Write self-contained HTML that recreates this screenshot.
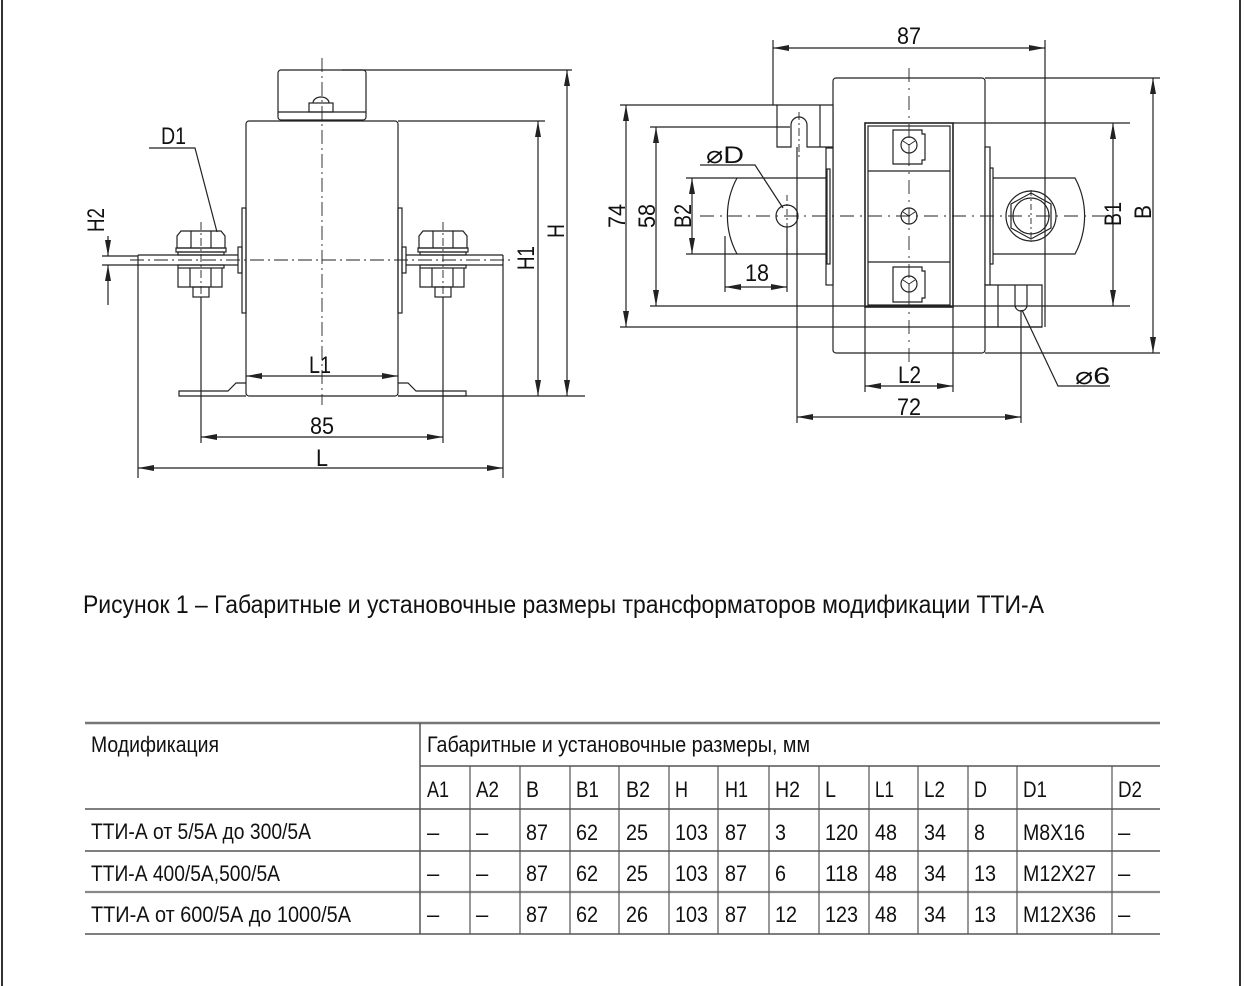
<!DOCTYPE html>
<html><head><meta charset="utf-8"><style>
html,body{margin:0;padding:0;background:#fff;}
svg{display:block;}
text{font-family:"Liberation Sans",sans-serif;fill:#111;}
</style></head><body>
<svg width="1244" height="986" viewBox="0 0 1244 986" xmlns="http://www.w3.org/2000/svg">
<defs>
<marker id="a" viewBox="0 0 16 6" refX="16" refY="3" markerWidth="16" markerHeight="6" orient="auto-start-reverse" markerUnits="userSpaceOnUse"><path d="M0,0 L16,3 L0,6 Z" fill="#222"/></marker>
</defs>
<line x1="2" y1="0" x2="2" y2="986" stroke="#333" stroke-width="2"/>
<line x1="1240" y1="0" x2="1240" y2="986" stroke="#333" stroke-width="2"/>

<g stroke="#222" stroke-width="1.2" fill="none">
<rect x="278" y="70" width="88" height="50" rx="3" fill="#fff"/>
<line x1="278" y1="112" x2="366" y2="112"/>
<rect x="309" y="103" width="24" height="9"/>
<path d="M313,103 a8,6 0 0 1 16,0"/>
<rect x="246" y="121" width="152" height="275" rx="3" fill="#fff"/>
<rect x="242" y="208" width="4" height="105"/>
<rect x="238" y="247" width="4" height="26"/>
<rect x="398" y="208" width="4" height="105"/>
<rect x="402" y="247" width="4" height="26"/>
<path d="M138,255 H238 M138,265 H238 M138,255 V265"/>
<path d="M406,255 H503 M406,265 H503 M503,255 V265"/>
<path d="M177,248 V236 l4,-5 h40 l4,5 V248 Z M191,231 v17 M211,231 v17"/>
<rect x="176" y="248" width="50" height="4"/><rect x="178" y="252" width="46" height="3"/>
<rect x="178" y="265" width="46" height="3"/>
<path d="M178,268 V287 h44 V268 M190,268 v19 M211,268 v19"/>
<rect x="193" y="287" width="16" height="10"/>
<path d="M419,248 V236 l4,-5 h40 l4,5 V248 Z M433,231 v17 M453,231 v17"/>
<rect x="418" y="248" width="50" height="4"/><rect x="420" y="252" width="46" height="3"/>
<rect x="420" y="265" width="46" height="3"/>
<path d="M420,268 V287 h44 V268 M432,268 v19 M453,268 v19"/>
<rect x="435" y="287" width="16" height="10"/>
<path d="M246,383 H236 l-8,8 H179 v5 H246"/>
<path d="M398,383 H408 l8,8 H466 v5 H398"/>
<line x1="322" y1="58" x2="322" y2="405" stroke-dasharray="14,4,2,4" stroke-width="0.9"/>
<line x1="130" y1="260" x2="510" y2="260" stroke-dasharray="14,4,2,4" stroke-width="0.9"/>
<line x1="201" y1="222" x2="201" y2="300" stroke-dasharray="8,3,2,3" stroke-width="0.9"/>
<line x1="443" y1="222" x2="443" y2="300" stroke-dasharray="8,3,2,3" stroke-width="0.9"/>
<line x1="342" y1="70" x2="572" y2="70"/>
<line x1="398" y1="121" x2="545" y2="121"/>
<line x1="398" y1="396" x2="585" y2="396"/>
<line x1="567" y1="70" x2="567" y2="396" marker-start="url(#a)" marker-end="url(#a)"/>
<line x1="538" y1="121" x2="538" y2="396" marker-start="url(#a)" marker-end="url(#a)"/>
<line x1="246" y1="376" x2="398" y2="376" marker-start="url(#a)" marker-end="url(#a)"/>
<line x1="201" y1="297" x2="201" y2="443"/>
<line x1="443" y1="297" x2="443" y2="443"/>
<line x1="201" y1="437" x2="443" y2="437" marker-start="url(#a)" marker-end="url(#a)"/>
<line x1="138" y1="265" x2="138" y2="478"/>
<line x1="503" y1="265" x2="503" y2="478"/>
<line x1="138" y1="468" x2="503" y2="468" marker-start="url(#a)" marker-end="url(#a)"/>
<line x1="102" y1="256" x2="138" y2="256"/>
<line x1="102" y1="265" x2="138" y2="265"/>
<line x1="108" y1="236" x2="108" y2="256" marker-end="url(#a)"/>
<line x1="108" y1="305" x2="108" y2="265" marker-end="url(#a)"/>
<path d="M149,148 H195 L217,232"/>

<rect x="833" y="78" width="152" height="275" rx="3" fill="#fff"/>
<path d="M826,178 H737 a80,80 0 0 0 0,76 H826" fill="#fff"/>
<path d="M993,178 H1075 a80,80 0 0 1 0,76 H993" fill="#fff"/>
<circle cx="787" cy="216" r="11"/>
<circle cx="1031" cy="216" r="25"/>
<path d="M1031,193 l20,11 v24 l-20,11 l-20,-11 v-24 Z"/>
<circle cx="1031" cy="216" r="18"/>
<rect x="826" y="148" width="7" height="137" fill="#fff"/>
<rect x="827" y="169" width="3" height="95"/>
<rect x="985" y="147" width="5" height="138" fill="#fff"/>
<rect x="990" y="168" width="3" height="96"/>
<path d="M777,105 H833 V147 H807 V125 a8,8 0 0 0 -16,0 V147 H777 Z" fill="#fff"/>
<line x1="820" y1="105" x2="820" y2="147"/>
<path d="M985,285 H1042 V327 H985 Z M1015,285 V305 a6,6 0 0 0 12,0 V285" fill="#fff"/>
<line x1="998" y1="285" x2="998" y2="327"/>
<rect x="865" y="123" width="88" height="184" stroke-width="1.6" fill="#fff"/>
<rect x="868" y="126" width="82" height="179"/>
<line x1="868" y1="171" x2="950" y2="171"/>
<line x1="868" y1="262" x2="950" y2="262"/>
<path d="M893,130 H922 v4 h3 v26 h-3 v4 H893 Z"/>
<path d="M893,267 H922 v4 h3 v27 h-3 v4 H893 Z"/>
<circle cx="909" cy="145" r="8"/><circle cx="909" cy="216" r="8"/><circle cx="909" cy="284" r="8"/>
<path d="M903,141 l6,4 l6,-4 M909,145 v8 M903,212 l6,4 l6,-4 M909,216 v8 M903,280 l6,4 l6,-4 M909,284 v8" stroke-width="0.9"/>
<line x1="909" y1="68" x2="909" y2="365" stroke-dasharray="14,6,2,6" stroke-width="0.9"/>
<line x1="700" y1="216" x2="1120" y2="216" stroke-dasharray="14,6,2,6" stroke-width="0.9"/>
<line x1="799" y1="112" x2="799" y2="160" stroke-dasharray="8,3,2,3" stroke-width="0.9"/>
<line x1="787" y1="195" x2="787" y2="240" stroke-dasharray="6,3,2,3" stroke-width="0.9"/>
<line x1="1031" y1="190" x2="1031" y2="242" stroke-dasharray="6,3,2,3" stroke-width="0.9"/>
<line x1="773" y1="40" x2="773" y2="105"/>
<line x1="1045" y1="40" x2="1045" y2="327"/>
<line x1="773" y1="48" x2="1045" y2="48" marker-start="url(#a)" marker-end="url(#a)"/>
<line x1="620" y1="105" x2="777" y2="105"/>
<line x1="620" y1="327" x2="1042" y2="327"/>
<line x1="626" y1="105" x2="626" y2="327" marker-start="url(#a)" marker-end="url(#a)"/>
<line x1="650" y1="127" x2="790" y2="127"/>
<line x1="650" y1="306" x2="1130" y2="306"/>
<line x1="656" y1="127" x2="656" y2="306" marker-start="url(#a)" marker-end="url(#a)"/>
<line x1="953" y1="123" x2="1130" y2="123"/>
<line x1="1113" y1="123" x2="1113" y2="306" marker-start="url(#a)" marker-end="url(#a)"/>
<line x1="686" y1="178" x2="737" y2="178"/>
<line x1="686" y1="254" x2="737" y2="254"/>
<line x1="692" y1="178" x2="692" y2="254" marker-start="url(#a)" marker-end="url(#a)"/>
<line x1="725" y1="236" x2="725" y2="292"/>
<line x1="787" y1="227" x2="787" y2="292"/>
<line x1="725" y1="287" x2="787" y2="287" marker-start="url(#a)" marker-end="url(#a)"/>
<line x1="985" y1="78" x2="1160" y2="78"/>
<line x1="985" y1="353" x2="1160" y2="353"/>
<line x1="1153" y1="78" x2="1153" y2="353" marker-start="url(#a)" marker-end="url(#a)"/>
<line x1="865" y1="307" x2="865" y2="392"/>
<line x1="953" y1="307" x2="953" y2="392"/>
<line x1="865" y1="386" x2="953" y2="386" marker-start="url(#a)" marker-end="url(#a)"/>
<line x1="797" y1="147" x2="797" y2="423"/>
<line x1="1021" y1="310" x2="1021" y2="423"/>
<line x1="797" y1="417" x2="1021" y2="417" marker-start="url(#a)" marker-end="url(#a)"/>
<path d="M700,165 H755 L783,208"/>
<path d="M1022,310 L1058,386 H1110"/>
</g>

<g font-size="24">
<text x="161" y="144" textLength="25" lengthAdjust="spacingAndGlyphs">D1</text>
<text x="309" y="373" textLength="22" lengthAdjust="spacingAndGlyphs">L1</text>
<text x="310" y="434" textLength="24" lengthAdjust="spacingAndGlyphs">85</text>
<text x="316" y="466" textLength="12" lengthAdjust="spacingAndGlyphs">L</text>
<text transform="translate(104,232) rotate(-90)" textLength="24" lengthAdjust="spacingAndGlyphs">H2</text>
<text transform="translate(534,270) rotate(-90)" textLength="24" lengthAdjust="spacingAndGlyphs">H1</text>
<text transform="translate(564,238) rotate(-90)" textLength="14" lengthAdjust="spacingAndGlyphs">H</text>
<text x="897" y="44" textLength="24" lengthAdjust="spacingAndGlyphs">87</text>
<text transform="translate(625,228) rotate(-90)" textLength="24" lengthAdjust="spacingAndGlyphs">74</text>
<text transform="translate(655,228) rotate(-90)" textLength="24" lengthAdjust="spacingAndGlyphs">58</text>
<text transform="translate(691,228) rotate(-90)" textLength="24" lengthAdjust="spacingAndGlyphs">B2</text>
<text transform="translate(1121,226) rotate(-90)" textLength="24" lengthAdjust="spacingAndGlyphs">B1</text>
<text transform="translate(1151,219) rotate(-90)" textLength="14" lengthAdjust="spacingAndGlyphs">B</text>
<text x="745" y="281" textLength="24" lengthAdjust="spacingAndGlyphs">18</text>
<text x="706" y="163" textLength="38" lengthAdjust="spacingAndGlyphs">⌀D</text>
<text x="898" y="383" textLength="23" lengthAdjust="spacingAndGlyphs">L2</text>
<text x="897" y="415" textLength="24" lengthAdjust="spacingAndGlyphs">72</text>
<text x="1075" y="384" textLength="35" lengthAdjust="spacingAndGlyphs">⌀6</text>
</g>

<text x="83" y="613" font-size="25" textLength="961" lengthAdjust="spacingAndGlyphs">Рисунок 1 – Габаритные и установочные размеры трансформаторов модификации ТТИ-А</text>

<g stroke="#555" stroke-width="1.5">
<line x1="85" y1="723" x2="1160" y2="723" stroke-width="2.5" stroke="#777"/>
<line x1="420" y1="766" x2="1160" y2="766"/>
<line x1="85" y1="809" x2="1160" y2="809"/>
<line x1="85" y1="851" x2="1160" y2="851"/>
<line x1="85" y1="892" x2="1160" y2="892" stroke-width="2.2" stroke="#888"/>
<line x1="85" y1="934" x2="1160" y2="934"/>
<line x1="420" y1="723" x2="420" y2="934"/>
<path d="M470,766V934 M520,766V934 M570,766V934 M619,766V934 M669,766V934 M718,766V934 M769,766V934 M819,766V934 M869,766V934 M918,766V934 M968,766V934 M1017,766V934 M1112,766V934" stroke-width="1.2"/>
</g>
<g font-size="22">
<text x="91" y="752" textLength="128" lengthAdjust="spacingAndGlyphs">Модификация</text>
<text x="427" y="752" textLength="383" lengthAdjust="spacingAndGlyphs">Габаритные и установочные размеры, мм</text>
<text x="91" y="839" textLength="220" lengthAdjust="spacingAndGlyphs">ТТИ-А от 5/5А до 300/5А</text>
<text x="91" y="881" textLength="189" lengthAdjust="spacingAndGlyphs">ТТИ-А 400/5А,500/5А</text>
<text x="91" y="922" textLength="260" lengthAdjust="spacingAndGlyphs">ТТИ-А от  600/5А до 1000/5А</text>
</g>
<g font-size="22">
<text x="427" y="797" textLength="22" lengthAdjust="spacingAndGlyphs">A1</text>
<text x="476" y="797" textLength="23" lengthAdjust="spacingAndGlyphs">A2</text>
<text x="526" y="797" textLength="13" lengthAdjust="spacingAndGlyphs">B</text>
<text x="576" y="797" textLength="23" lengthAdjust="spacingAndGlyphs">B1</text>
<text x="626" y="797" textLength="24" lengthAdjust="spacingAndGlyphs">B2</text>
<text x="675" y="797" textLength="13" lengthAdjust="spacingAndGlyphs">H</text>
<text x="725" y="797" textLength="23" lengthAdjust="spacingAndGlyphs">H1</text>
<text x="775" y="797" textLength="25" lengthAdjust="spacingAndGlyphs">H2</text>
<text x="825" y="797" textLength="11" lengthAdjust="spacingAndGlyphs">L</text>
<text x="875" y="797" textLength="19" lengthAdjust="spacingAndGlyphs">L1</text>
<text x="924" y="797" textLength="21" lengthAdjust="spacingAndGlyphs">L2</text>
<text x="974" y="797" textLength="13" lengthAdjust="spacingAndGlyphs">D</text>
<text x="1023" y="797" textLength="24" lengthAdjust="spacingAndGlyphs">D1</text>
<text x="1118" y="797" textLength="24" lengthAdjust="spacingAndGlyphs">D2</text>
</g>
<g font-size="22">
<text x="427" y="840">–</text><text x="476" y="840">–</text>
<text x="526" y="840" textLength="22" lengthAdjust="spacingAndGlyphs">87</text>
<text x="576" y="840" textLength="22" lengthAdjust="spacingAndGlyphs">62</text>
<text x="626" y="840" textLength="22" lengthAdjust="spacingAndGlyphs">25</text>
<text x="675" y="840" textLength="33" lengthAdjust="spacingAndGlyphs">103</text>
<text x="725" y="840" textLength="22" lengthAdjust="spacingAndGlyphs">87</text>
<text x="775" y="840" textLength="11" lengthAdjust="spacingAndGlyphs">3</text>
<text x="825" y="840" textLength="33" lengthAdjust="spacingAndGlyphs">120</text>
<text x="875" y="840" textLength="22" lengthAdjust="spacingAndGlyphs">48</text>
<text x="924" y="840" textLength="22" lengthAdjust="spacingAndGlyphs">34</text>
<text x="974" y="840" textLength="11" lengthAdjust="spacingAndGlyphs">8</text>
<text x="1023" y="840" textLength="62" lengthAdjust="spacingAndGlyphs">M8X16</text>
<text x="1118" y="840">–</text>
<text x="427" y="881">–</text><text x="476" y="881">–</text>
<text x="526" y="881" textLength="22" lengthAdjust="spacingAndGlyphs">87</text>
<text x="576" y="881" textLength="22" lengthAdjust="spacingAndGlyphs">62</text>
<text x="626" y="881" textLength="22" lengthAdjust="spacingAndGlyphs">25</text>
<text x="675" y="881" textLength="33" lengthAdjust="spacingAndGlyphs">103</text>
<text x="725" y="881" textLength="22" lengthAdjust="spacingAndGlyphs">87</text>
<text x="775" y="881" textLength="11" lengthAdjust="spacingAndGlyphs">6</text>
<text x="825" y="881" textLength="33" lengthAdjust="spacingAndGlyphs">118</text>
<text x="875" y="881" textLength="22" lengthAdjust="spacingAndGlyphs">48</text>
<text x="924" y="881" textLength="22" lengthAdjust="spacingAndGlyphs">34</text>
<text x="974" y="881" textLength="22" lengthAdjust="spacingAndGlyphs">13</text>
<text x="1023" y="881" textLength="73" lengthAdjust="spacingAndGlyphs">M12X27</text>
<text x="1118" y="881">–</text>
<text x="427" y="922">–</text><text x="476" y="922">–</text>
<text x="526" y="922" textLength="22" lengthAdjust="spacingAndGlyphs">87</text>
<text x="576" y="922" textLength="22" lengthAdjust="spacingAndGlyphs">62</text>
<text x="626" y="922" textLength="22" lengthAdjust="spacingAndGlyphs">26</text>
<text x="675" y="922" textLength="33" lengthAdjust="spacingAndGlyphs">103</text>
<text x="725" y="922" textLength="22" lengthAdjust="spacingAndGlyphs">87</text>
<text x="775" y="922" textLength="22" lengthAdjust="spacingAndGlyphs">12</text>
<text x="825" y="922" textLength="33" lengthAdjust="spacingAndGlyphs">123</text>
<text x="875" y="922" textLength="22" lengthAdjust="spacingAndGlyphs">48</text>
<text x="924" y="922" textLength="22" lengthAdjust="spacingAndGlyphs">34</text>
<text x="974" y="922" textLength="22" lengthAdjust="spacingAndGlyphs">13</text>
<text x="1023" y="922" textLength="73" lengthAdjust="spacingAndGlyphs">M12X36</text>
<text x="1118" y="922">–</text>
</g>
</svg>
</body></html>
